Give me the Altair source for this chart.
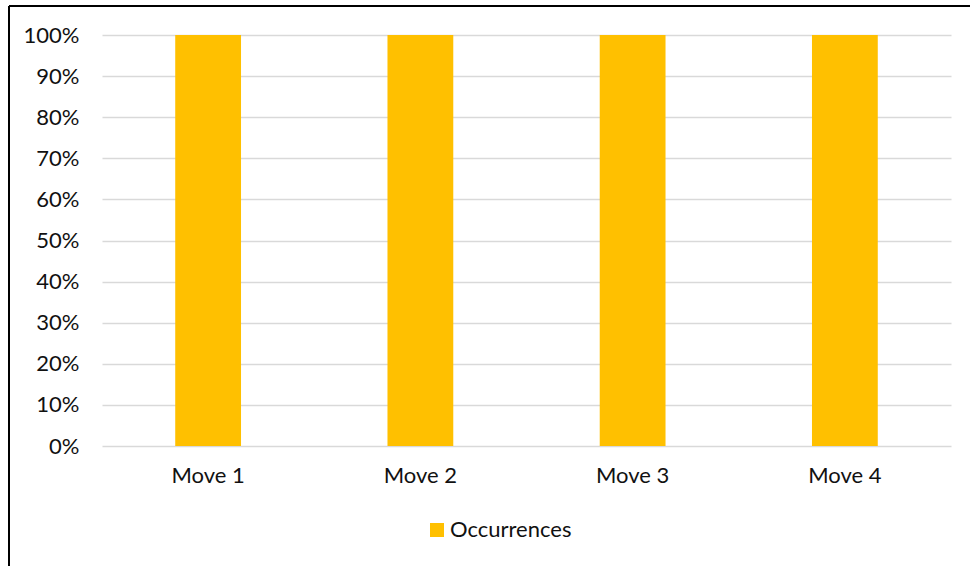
import altair as alt
import pandas as pd

# Share of occurrences per move
moves = ["Move 1", "Move 2", "Move 3", "Move 4"]
shares = [1.0, 1.0, 1.0, 1.0]
series = ["Occurrences"] * 4
y_ticks = [0, 0.1, 0.2, 0.3, 0.4, 0.5, 0.6, 0.7, 0.8, 0.9, 1.0]

df = pd.DataFrame({"move": moves, "share": shares, "series": series})

FONT = "Lato"
TEXT = "#111111"
SIZE = 22

bars = alt.Chart(df).mark_bar(color="#FFC000").encode(
    x=alt.X(
        "move:N",
        sort=moves,
        title=None,
        scale=alt.Scale(paddingInner=0.69, paddingOuter=0.345),
        axis=alt.Axis(
            labelAngle=0, domain=False, ticks=False, grid=False,
            labelPadding=19, labelFontSize=SIZE, labelFont=FONT, labelColor=TEXT,
        ),
    ),
    y=alt.Y(
        "share:Q",
        title=None,
        scale=alt.Scale(domain=[0, 1], nice=False),
        axis=alt.Axis(
            values=y_ticks, format=".0%", domain=False, ticks=False,
            grid=True, gridColor="#D9D9D9", gridWidth=1.4,
            labelPadding=23, labelFontSize=SIZE, labelFont=FONT, labelColor=TEXT,
        ),
    ),
    color=alt.Color(
        "series:N",
        scale=alt.Scale(range=["#FFC000"]),
        legend=alt.Legend(
            title=None, orient="none", legendX=324, legendY=484,
            symbolType="square", symbolSize=196, symbolStrokeWidth=0,
            labelFontSize=SIZE, labelFont=FONT, labelColor=TEXT,
            padding=0, labelOffset=2,
        ),
    ),
)

# Chart frame: left and top edges
frame_left = alt.Chart(df).mark_rule(color="#000000", strokeWidth=2).encode(
    x=alt.value(-93), y=alt.value(-29), y2=alt.value(600)
)
frame_top = alt.Chart(df).mark_rule(color="#000000", strokeWidth=2).encode(
    x=alt.value(-93), x2=alt.value(900), y=alt.value(-29)
)

chart = alt.layer(bars, frame_left, frame_top).properties(
    width=849,
    height=411,
    background="white",
    autosize=alt.AutoSizeParams(type="none"),
    padding={"left": 102, "top": 35, "right": 19, "bottom": 120},
).configure_view(strokeWidth=0, stroke="transparent")

chart.save("out.html", embed_options={"renderer": "svg", "actions": False})
